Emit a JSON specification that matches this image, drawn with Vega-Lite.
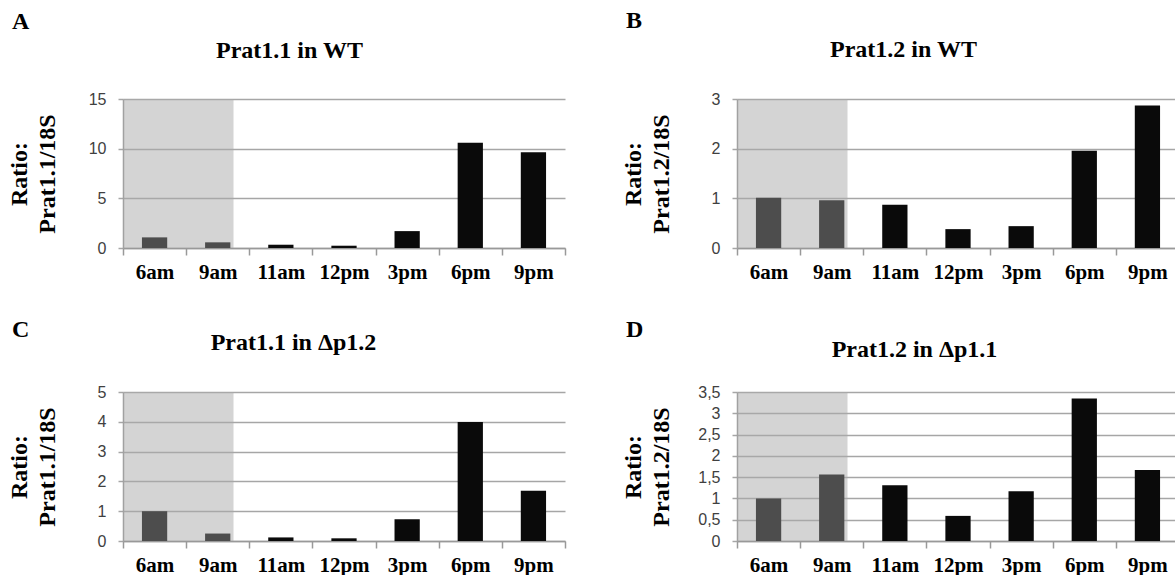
{
  "$schema": "https://vega.github.io/schema/vega-lite/v6.json",
  "background": "white",
  "padding": {"left": 7, "top": 9, "right": 0, "bottom": 0},
  "datasets": {
    "A": [
      {"time": "6am", "value": 1.07}, {"time": "9am", "value": 0.57}, {"time": "11am", "value": 0.33},
      {"time": "12pm", "value": 0.23}, {"time": "3pm", "value": 1.7}, {"time": "6pm", "value": 10.6}, {"time": "9pm", "value": 9.65}
    ],
    "B": [
      {"time": "6am", "value": 1.01}, {"time": "9am", "value": 0.96}, {"time": "11am", "value": 0.87},
      {"time": "12pm", "value": 0.38}, {"time": "3pm", "value": 0.44}, {"time": "6pm", "value": 1.96}, {"time": "9pm", "value": 2.87}
    ],
    "C": [
      {"time": "6am", "value": 1.0}, {"time": "9am", "value": 0.25}, {"time": "11am", "value": 0.12},
      {"time": "12pm", "value": 0.09}, {"time": "3pm", "value": 0.73}, {"time": "6pm", "value": 3.99}, {"time": "9pm", "value": 1.69}
    ],
    "D": [
      {"time": "6am", "value": 1.0}, {"time": "9am", "value": 1.56}, {"time": "11am", "value": 1.31},
      {"time": "12pm", "value": 0.59}, {"time": "3pm", "value": 1.17}, {"time": "6pm", "value": 3.35}, {"time": "9pm", "value": 1.67}
    ],
    "shadeA": [{"start": "6am", "end": "9am", "top": 15}],
    "shadeB": [{"start": "6am", "end": "9am", "top": 3}],
    "shadeC": [{"start": "6am", "end": "9am", "top": 5}],
    "shadeD": [{"start": "6am", "end": "9am", "top": 3.5}]
  },
  "columns": 2,
  "spacing": {"row": 144, "column": 172},
  "bounds": "flush",
  "concat": [
    {
      "width": 442, "height": 149,
      "title": {"text": "A", "anchor": "start", "frame": "bounds", "baseline": "alphabetic", "offset": -15, "dx": 5},
      "layer": [
        {
          "data": {"name": "shadeA"},
          "mark": {"type": "rect", "color": "#aaaaaa", "opacity": 0.5},
          "encoding": {
            "x": {"field": "start", "type": "nominal", "bandPosition": 0,
              "scale": {"domain": ["6am", "9am", "11am", "12pm", "3pm", "6pm", "9pm"]},
              "axis": {"orient": "top", "title": "Prat1.1 in WT", "titleX": 166, "titleY": -42}},
            "x2": {"field": "end", "bandPosition": 0.75},
            "y": {"field": "top", "type": "quantitative", "scale": {"domain": [0, 15], "nice": false},
              "axis": {"values": [0, 5, 10, 15], "title": ["Ratio:", "Prat1.1/18S"]}},
            "y2": {"datum": 0}
          }
        },
        {
          "data": {"name": "A"},
          "mark": {"type": "bar", "width": {"band": 0.4}},
          "encoding": {
            "x": {"field": "time", "type": "nominal",
              "scale": {"domain": ["6am", "9am", "11am", "12pm", "3pm", "6pm", "9pm"]},
              "axis": {"orient": "bottom", "title": null}},
            "y": {"field": "value", "type": "quantitative", "scale": {"domain": [0, 15], "nice": false},
              "axis": {"values": [0, 5, 10, 15], "title": ["Ratio:", "Prat1.1/18S"]}},
            "color": {"condition": {"test": "datum.time === '6am' || datum.time === '9am'", "value": "#4d4d4d"}, "value": "#0a0a0a"}
          }
        }
      ],
      "resolve": {"axis": {"x": "independent"}}
    },
    {
      "width": 442, "height": 149,
      "title": {"text": "B", "anchor": "start", "frame": "bounds", "baseline": "alphabetic", "offset": -15, "dx": 5},
      "layer": [
        {
          "data": {"name": "shadeB"},
          "mark": {"type": "rect", "color": "#aaaaaa", "opacity": 0.5},
          "encoding": {
            "x": {"field": "start", "type": "nominal", "bandPosition": 0,
              "scale": {"domain": ["6am", "9am", "11am", "12pm", "3pm", "6pm", "9pm"]},
              "axis": {"orient": "top", "title": "Prat1.2 in WT", "titleX": 166, "titleY": -43}},
            "x2": {"field": "end", "bandPosition": 0.75},
            "y": {"field": "top", "type": "quantitative", "scale": {"domain": [0, 3], "nice": false},
              "axis": {"values": [0, 1, 2, 3], "title": ["Ratio:", "Prat1.2/18S"]}},
            "y2": {"datum": 0}
          }
        },
        {
          "data": {"name": "B"},
          "mark": {"type": "bar", "width": {"band": 0.4}},
          "encoding": {
            "x": {"field": "time", "type": "nominal",
              "scale": {"domain": ["6am", "9am", "11am", "12pm", "3pm", "6pm", "9pm"]},
              "axis": {"orient": "bottom", "title": null}},
            "y": {"field": "value", "type": "quantitative", "scale": {"domain": [0, 3], "nice": false},
              "axis": {"values": [0, 1, 2, 3], "title": ["Ratio:", "Prat1.2/18S"]}},
            "color": {"condition": {"test": "datum.time === '6am' || datum.time === '9am'", "value": "#4d4d4d"}, "value": "#0a0a0a"}
          }
        }
      ],
      "resolve": {"axis": {"x": "independent"}}
    },
    {
      "width": 442, "height": 149,
      "title": {"text": "C", "anchor": "start", "frame": "bounds", "baseline": "alphabetic", "offset": -31, "dx": 5},
      "layer": [
        {
          "data": {"name": "shadeC"},
          "mark": {"type": "rect", "color": "#aaaaaa", "opacity": 0.5},
          "encoding": {
            "x": {"field": "start", "type": "nominal", "bandPosition": 0,
              "scale": {"domain": ["6am", "9am", "11am", "12pm", "3pm", "6pm", "9pm"]},
              "axis": {"orient": "top", "title": "Prat1.1 in Δp1.2", "titleX": 170, "titleY": -43}},
            "x2": {"field": "end", "bandPosition": 0.75},
            "y": {"field": "top", "type": "quantitative", "scale": {"domain": [0, 5], "nice": false},
              "axis": {"values": [0, 1, 2, 3, 4, 5], "title": ["Ratio:", "Prat1.1/18S"]}},
            "y2": {"datum": 0}
          }
        },
        {
          "data": {"name": "C"},
          "mark": {"type": "bar", "width": {"band": 0.4}},
          "encoding": {
            "x": {"field": "time", "type": "nominal",
              "scale": {"domain": ["6am", "9am", "11am", "12pm", "3pm", "6pm", "9pm"]},
              "axis": {"orient": "bottom", "title": null}},
            "y": {"field": "value", "type": "quantitative", "scale": {"domain": [0, 5], "nice": false},
              "axis": {"values": [0, 1, 2, 3, 4, 5], "title": ["Ratio:", "Prat1.1/18S"]}},
            "color": {"condition": {"test": "datum.time === '6am' || datum.time === '9am'", "value": "#4d4d4d"}, "value": "#0a0a0a"}
          }
        }
      ],
      "resolve": {"axis": {"x": "independent"}}
    },
    {
      "width": 442, "height": 149,
      "title": {"text": "D", "anchor": "start", "frame": "bounds", "baseline": "alphabetic", "offset": -24, "dx": 5},
      "layer": [
        {
          "data": {"name": "shadeD"},
          "mark": {"type": "rect", "color": "#aaaaaa", "opacity": 0.5},
          "encoding": {
            "x": {"field": "start", "type": "nominal", "bandPosition": 0,
              "scale": {"domain": ["6am", "9am", "11am", "12pm", "3pm", "6pm", "9pm"]},
              "axis": {"orient": "top", "title": "Prat1.2 in Δp1.1", "titleX": 177, "titleY": -36}},
            "x2": {"field": "end", "bandPosition": 0.75},
            "y": {"field": "top", "type": "quantitative", "scale": {"domain": [0, 3.5], "nice": false},
              "axis": {"values": [0, 0.5, 1, 1.5, 2, 2.5, 3, 3.5], "title": ["Ratio:", "Prat1.2/18S"]}},
            "y2": {"datum": 0}
          }
        },
        {
          "data": {"name": "D"},
          "mark": {"type": "bar", "width": {"band": 0.4}},
          "encoding": {
            "x": {"field": "time", "type": "nominal",
              "scale": {"domain": ["6am", "9am", "11am", "12pm", "3pm", "6pm", "9pm"]},
              "axis": {"orient": "bottom", "title": null}},
            "y": {"field": "value", "type": "quantitative", "scale": {"domain": [0, 3.5], "nice": false},
              "axis": {"values": [0, 0.5, 1, 1.5, 2, 2.5, 3, 3.5], "title": ["Ratio:", "Prat1.2/18S"]}},
            "color": {"condition": {"test": "datum.time === '6am' || datum.time === '9am'", "value": "#4d4d4d"}, "value": "#0a0a0a"}
          }
        }
      ],
      "resolve": {"axis": {"x": "independent"}}
    }
  ],
  "config": {
    "view": {"stroke": null},
    "scale": {"bandPaddingInner": 0, "bandPaddingOuter": 0},
    "title": {"font": "Liberation Serif", "fontSize": 24, "fontWeight": "bold", "color": "#000"},
    "axisBottom": {
      "labelFont": "Liberation Serif", "labelFontWeight": "bold", "labelFontSize": 21, "labelColor": "#000",
      "labelAngle": 0, "labelPadding": 6, "tickBand": "extent", "tickSize": 7, "tickColor": "#999",
      "tickWidth": 1.5, "domainColor": "#999", "domainWidth": 1.5, "grid": false
    },
    "axisTop": {
      "labels": false, "ticks": false, "domain": false, "grid": false,
      "titleFont": "Liberation Serif", "titleFontWeight": "bold", "titleFontSize": 24, "titleColor": "#000",
      "titleAlign": "center", "titleBaseline": "alphabetic", "titleAngle": 0
    },
    "axisLeft": {
      "labelFont": "Liberation Sans", "labelFontSize": 16, "labelColor": "#404040", "labelPadding": 12,
      "tickSize": 5, "tickColor": "#a6a6a6", "tickWidth": 1.5, "domainColor": "#999", "domainWidth": 1.5,
      "grid": true, "gridColor": "#a6a6a6", "gridWidth": 1.5, "minExtent": 40, "maxExtent": 40,
      "titleFont": "Liberation Serif", "titleFontWeight": "bold", "titleFontSize": 24, "titleColor": "#000",
      "titlePadding": 24, "titleLineHeight": 28,
      "labelExpr": "replace(format(datum.value, '~g'), '.', ',')"
    }
  }
}
